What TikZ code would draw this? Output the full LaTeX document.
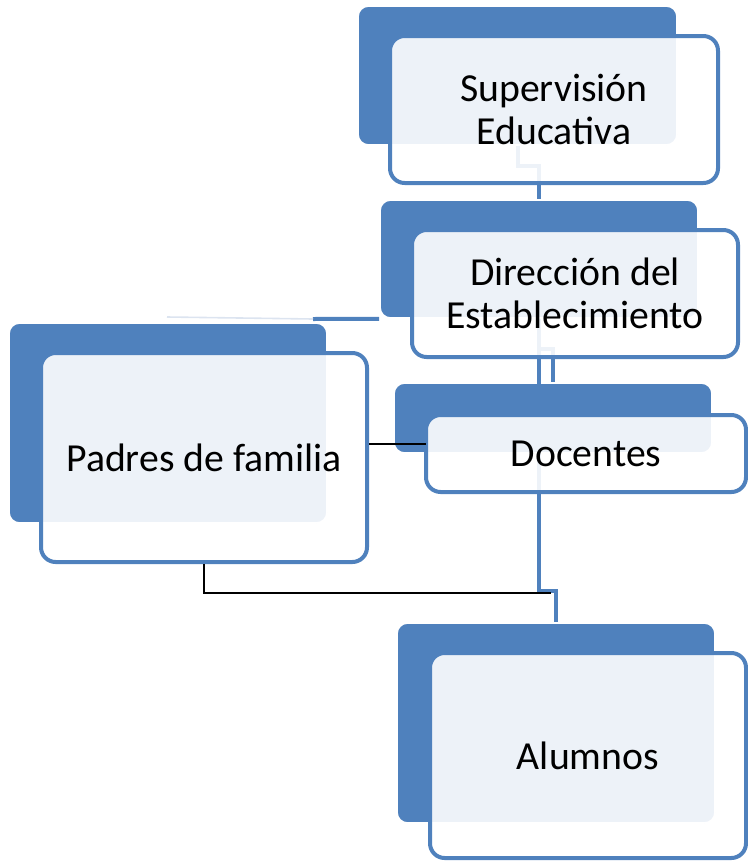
\documentclass[tikz,border=0pt]{standalone}
\usepackage{fontspec}
\setmainfont{Carlito}
\definecolor{boxblue}{HTML}{4F81BD}
\definecolor{fadeblue}{HTML}{DCE4F0}
\begin{document}
\begin{tikzpicture}[x=0.75pt,y=-0.75pt,
    back/.style={fill=boxblue,draw=white,line width=1.2pt,rounded corners=8pt,inner sep=0pt},
    front/.style={fill=white,fill opacity=0.9,text opacity=1,draw=boxblue,line width=3pt,rounded corners=11pt,inner sep=0pt,align=center,font=\fontsize{29.8}{32.5}\selectfont},
    link/.style={draw=boxblue,line width=3pt},
    blk/.style={draw=black,line width=1.1pt}]
      \useasboundingbox (0,0) rectangle (748,861);

      % back boxes
      \node[back,minimum width=239.25pt,minimum height=104.25pt] (sb) at (517.5,75.5) {};
      \node[back,minimum width=238.5pt,minimum height=88.5pt] (db) at (539,259) {};
      \node[back,minimum width=238.5pt,minimum height=150pt] (pb) at (168,423) {};
      \node[back,minimum width=238.5pt,minimum height=52.5pt] (cb) at (553,418) {};
      \node[back,minimum width=238.5pt,minimum height=150pt] (ab) at (556,723) {};
      \coordinate (pj) at (313,319);
      \coordinate (pd) at (426,444);
      \coordinate (pa) at (551,593);

      % connectors, under the front boxes
      \draw[link] (sb.south) -- ++(0,20) -| (db.north);
      \draw[link] (db.south) -- ++(0,272) -| (ab.north);
      \draw[link] (db.south) -- ++(0,30) -| (cb.north);
      \draw[link] (db.south west) -- (pj);
      \draw[fadeblue,line width=1.2pt] (pj) -- ++(-146,-2);

      % front boxes
      \node[front,minimum width=246pt,minimum height=110.25pt] (sf) at (554,109.5) {Supervisión\\Educativa};
      \node[front,minimum width=244.5pt,minimum height=95.25pt] (df) at (575,293.5) {Dirección del\\Establecimiento};
      \node[front,minimum width=244.5pt,minimum height=156.75pt] (pf) at (204,457.5) {Padres de familia};
      \node[front,minimum width=240pt,minimum height=57.75pt] (cf) at (586,453.5) {Docentes};
      \node[front,minimum width=237pt,minimum height=153.75pt] (af) at (588,755.5) {Alumnos};

      \draw[blk] (pf.east |- pd) -- (pd);
      \draw[blk] (pf.south) |- (pa);
\end{tikzpicture}
\end{document}
